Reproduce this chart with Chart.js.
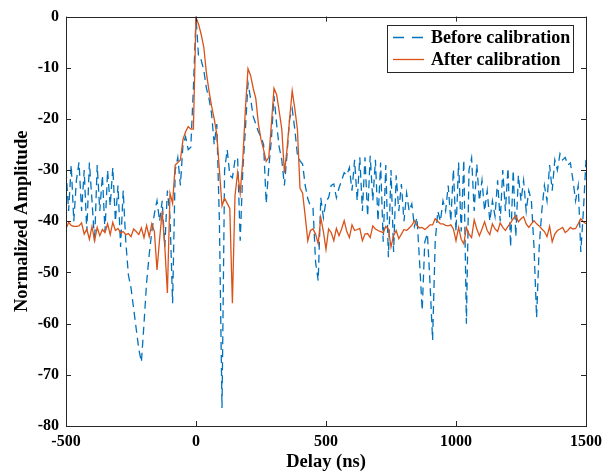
<!DOCTYPE html>
<html>
<head>
<meta charset="utf-8">
<script src="https://cdn.jsdelivr.net/npm/chart.js@4/dist/chart.umd.min.js"></script>
<style>
html,body{margin:0;padding:0;background:#fff;}
#wrap{width:612px;height:473px;position:relative;}
</style>
</head>
<body>
<div id="wrap"><canvas id="c" width="612" height="473"></canvas></div>
<script>
// Delay grid (ns)
const delayNs = [
 -500,-490,-480,-470,-460,-450,-440,-430,-420,-410,
 -400,-390,-380,-370,-360,-350,-340,-330,-320,-310,
 -300,-290,-280,-270,-260,-250,-240,-230,-220,-210,
 -200,-190,-180,-170,-160,-150,-140,-130,-120,-110,
 -100,-90,-80,-70,-60,-50,-40,-30,-20,-10,
 0,10,20,30,40,50,60,70,80,90,
 100,110,120,130,140,150,160,170,180,190,
 200,210,220,230,240,250,260,270,280,290,
 300,310,320,330,340,350,360,370,380,390,
 400,410,420,430,440,450,460,470,480,490,
 500,510,520,530,540,550,560,570,580,590,
 600,610,620,630,640,650,660,670,680,690,
 700,710,720,730,740,750,760,770,780,790,
 800,810,820,830,840,850,860,870,880,890,
 900,910,920,930,940,950,960,970,980,990,
 1000,1010,1020,1030,1040,1050,1060,1070,1080,1090,
 1100,1110,1120,1130,1140,1150,1160,1170,1180,1190,
 1200,1210,1220,1230,1240,1250,1260,1270,1280,1290,
 1300,1310,1320,1330,1340,1350,1360,1370,1380,1390,
 1400,1410,1420,1430,1440,1450,1460,1470,1480,1490,
 1500
];

// Before calibration (normalized amplitude, dB)
const beforeCal = [
 -30,-38,-29,-40,-32,-28.5,-38,-30,-42,-28.5,
 -36,-44,-29,-38,-31,-42,-30,-37,-29.5,-40,
 -33,-45,-34,-44,-50.5,-53,-57,-61,-65,-67.5,
 -60,-52,-46.5,-42,-38.5,-36,-40,-36,-45,-34,
 -39,-56,-30,-27.5,-33,-25,-23.5,-26,-25.5,-14,
 0,-8,-8.5,-10.5,-14,-16,-19,-25,-21,-40,
 -76.5,-30,-26,-31,-31.5,-28,-27.5,-43.8,-30,-22,
 -13,-16,-19.5,-21,-22.5,-23.5,-25,-36.5,-29.5,-24,
 -15.5,-21,-25.5,-28,-33,-27,-20,-18,-22,-27,
 -28.2,-28.8,-33,-35.6,-37,-37.4,-48,-51.6,-35.4,-39.3,
 -36,-35.4,-33,-32.7,-35.4,-33.5,-32,-30.5,-31,-29.5,
 -34,-28,-36,-27.5,-38,-27.5,-39,-27.2,-36,-28,
 -40,-28.5,-44,-29,-47,-30,-46,-31,-38,-32.7,
 -40,-34.5,-38,-36.6,-41,-39.3,-48,-57.4,-44,-42.4,
 -52,-63.2,-44,-38,-40,-36,-38,-33,-40,-29.8,
 -42,-28.5,-42,-28,-60,-30,-27.6,-38,-28.8,-36,
 -32,-38,-34,-40,-36,-39,-32,-40,-30,-38,
 -29.6,-45,-30,-43,-31,-36,-32,-38,-34,-36,
 -45,-58.8,-45,-38,-33,-36,-29,-34,-28,-30,
 -26.8,-28,-27.5,-29,-28.6,-32,-36,-33,-46,-38,
 -28
];

// After calibration
const afterCal = [
 -41.5,-40.2,-40.8,-41,-41,-40.9,-40.3,-42.5,-41.5,-43.5,
 -41,-43.8,-41.2,-42.8,-41.6,-42.2,-40.5,-42.6,-40.2,-41.8,
 -41.4,-42.3,-42,-42.6,-42.4,-43,-41.5,-42,-42.6,-41.3,
 -43.2,-40.8,-43,-40.5,-42,-49.5,-43.5,-38,-45,-54,
 -34.5,-36.5,-29,-28.5,-28,-24,-22.5,-21.5,-22,-22,
 -0.2,-1.5,-3.5,-6,-11,-14.5,-17.5,-20,-23,-30,
 -37,-35.5,-36.5,-37.5,-56,-35,-30.5,-34.5,-28,-18,
 -10.2,-11.5,-14,-16,-21,-24,-26,-28.3,-27.5,-21,
 -14,-15.2,-18.5,-22,-30.5,-26,-20,-14.5,-18,-22,
 -33.5,-34.5,-39,-43.8,-41.8,-41.5,-42.5,-44.4,-39.3,-42,
 -45.5,-41.5,-42.2,-43.8,-41.4,-42.8,-41.5,-39.9,-42,-43.2,
 -40.7,-41.8,-41.6,-41.4,-43.8,-42.5,-42.4,-43.2,-40.9,-41.5,
 -41.8,-42,-42.2,-41,-41.5,-45,-42.8,-41.8,-43.4,-42.5,
 -41.6,-41.8,-41.3,-40.8,-39.9,-40.8,-41.3,-41.2,-41.6,-41.2,
 -40.7,-40.7,-39.5,-40,-40.5,-40.5,-40.8,-40.9,-40.7,-41.5,
 -43.8,-41.2,-43.5,-44.4,-41.2,-42.5,-43.2,-39.7,-41.5,-42.8,
 -41.5,-40.1,-41.8,-42.6,-40.5,-41.5,-42,-40.3,-41.2,-41.8,
 -41,-40.3,-39.5,-38.9,-40.1,-39.5,-39.1,-40.5,-41.2,-40.5,
 -39.9,-40.5,-40.9,-41.5,-42,-43,-41,-44,-42.5,-41.8,
 -41.5,-41.2,-42.2,-41.8,-41.2,-41.5,-41.4,-40.5,-39.5,-40.1,
 -40.5
];

const seriesLabels = ['Before calibration', 'After calibration'];
const xTickValues = [-500, 0, 500, 1000, 1500];
const yTickValues = [-80, -70, -60, -50, -40, -30, -20, -10, 0];

const FONT = '"Liberation Serif", "Times New Roman", serif';
const AXIS = '#262626';
const BLUE = '#0072BD';
const ORANGE = '#D95319';

const toPts = arr => delayNs.map((d, i) => ({x: d, y: arr[i]}));

const frame = {
  id: 'frame',
  afterDatasetsDraw(chart) {
    const {ctx, chartArea: a, scales} = chart;
    ctx.save();
    ctx.strokeStyle = AXIS;
    ctx.lineWidth = 1;
    ctx.strokeRect(Math.round(a.left) + 0.5, Math.round(a.top) + 0.5, Math.round(a.right - a.left), Math.round(a.bottom - a.top));
    const tl = 5;
    ctx.beginPath();
    xTickValues.forEach(v => {
      const px = Math.round(scales.x.getPixelForValue(v)) + 0.5;
      ctx.moveTo(px, a.bottom); ctx.lineTo(px, a.bottom - tl);
      ctx.moveTo(px, a.top); ctx.lineTo(px, a.top + tl);
    });
    yTickValues.forEach(v => {
      const py = Math.round(scales.y.getPixelForValue(v)) + 0.5;
      ctx.moveTo(a.left, py); ctx.lineTo(a.left + tl, py);
      ctx.moveTo(a.right, py); ctx.lineTo(a.right - tl, py);
    });
    ctx.stroke();

    // legend box
    const lx = 387.5, ly = 25.5, lw = 186, lh = 47;
    ctx.fillStyle = '#fff';
    ctx.fillRect(lx, ly, lw, lh);
    ctx.strokeStyle = AXIS;
    ctx.strokeRect(lx, ly, lw, lh);
    const ds = chart.data.datasets;
    const rows = [37.5, 59.5];
    ctx.font = 'bold 18px ' + FONT;
    ctx.textBaseline = 'middle';
    ctx.textAlign = 'left';
    ds.forEach((d, i) => {
      const y = rows[i];
      ctx.strokeStyle = d.borderColor;
      ctx.lineWidth = 1.3;
      ctx.setLineDash(d.borderDash && d.borderDash.length ? [11, 8] : []);
      ctx.beginPath();
      ctx.moveTo(393, y); ctx.lineTo(424, y);
      ctx.stroke();
      ctx.setLineDash([]);
      ctx.fillStyle = '#000';
      ctx.fillText(d.label, 431, y + 1);
    });
    ctx.restore();
  }
};

new Chart(document.getElementById('c'), {
  type: 'line',
  data: {
    datasets: [
      { label: seriesLabels[0], data: toPts(beforeCal), borderColor: BLUE, borderWidth: 1.3,
        borderDash: [8, 5], pointRadius: 0, tension: 0, fill: false, order: 1 },
      { label: seriesLabels[1], data: toPts(afterCal), borderColor: ORANGE, borderWidth: 1.3,
        pointRadius: 0, tension: 0, fill: false, order: 0 }
    ]
  },
  options: {
    responsive: false,
    animation: false,
    devicePixelRatio: 1,
    layout: { padding: { left: 0, right: 26, top: 15, bottom: 0 } },
    plugins: { legend: { display: false }, tooltip: { enabled: false } },
    scales: {
      x: {
        type: 'linear', min: -500, max: 1500,
        afterBuildTicks: s => { s.ticks = xTickValues.map(v => ({value: v})); },
        afterFit: s => { s.height = 47; },
        grid: { display: false, drawTicks: false },
        border: { display: false },
        ticks: { font: { family: FONT, size: 16, weight: 'bold' }, color: '#000', padding: 6,
          callback: v => String(v), maxRotation: 0 },
        title: { display: true, text: 'Delay (ns)', color: '#000',
          font: { family: FONT, size: 18.5, weight: 'bold' }, padding: { top: 0, bottom: 0 } }
      },
      y: {
        type: 'linear', min: -80, max: 0,
        afterBuildTicks: s => { s.ticks = yTickValues.map(v => ({value: v})); },
        afterFit: s => { s.width = 66; },
        grid: { display: false, drawTicks: false },
        border: { display: false },
        ticks: { font: { family: FONT, size: 16, weight: 'bold' }, color: '#000', padding: 7,
          callback: v => String(v) },
        title: { display: true, text: 'Normalized Amplitude', color: '#000',
          font: { family: FONT, size: 18.5, weight: 'bold' }, padding: { top: 11, bottom: 0 } }
      }
    }
  },
  plugins: [frame]
});
</script>
</body>
</html>
